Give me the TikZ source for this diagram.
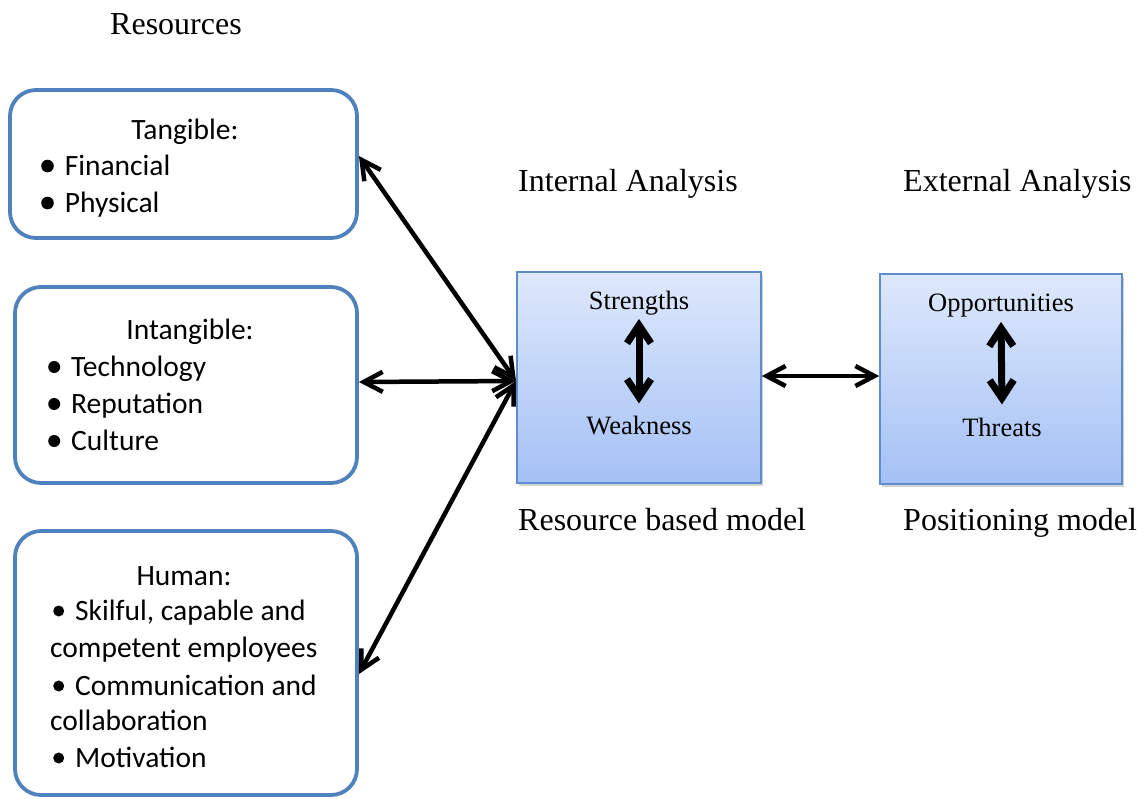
\documentclass[tikz,border=0pt]{standalone}
\usepackage{fontspec}
\setmainfont{Liberation Serif}
\newfontfamily\boxfont{Carlito}
\usetikzlibrary{arrows.meta,shadows}
\definecolor{resblue}{RGB}{79,129,189}
\definecolor{sqedge}{RGB}{95,140,205}
\definecolor{sqtop}{RGB}{222,232,251}
\definecolor{sqbot}{RGB}{164,193,245}
\tikzset{
  resbox/.style={draw=resblue, line width=3.8pt, rounded corners=26pt, fill=white},
  line/.style={font=\boxfont\fontsize{29.5}{35}\selectfont, inner sep=0pt, anchor=base west},
  head/.style={font=\boxfont\fontsize{29.5}{35}\selectfont, inner sep=0pt, anchor=base},
  label/.style={font=\fontsize{32}{38}\selectfont, inner sep=0pt, anchor=base west},
  inner/.style={font=\fontsize{26.5}{32}\selectfont, inner sep=0pt, anchor=base},
  swot/.style={draw=sqedge, line width=1.6pt, top color=sqtop, bottom color=sqbot,
    drop shadow={shadow xshift=2pt, shadow yshift=-3pt, opacity=0.35}},
  link/.style={line width=4.5pt, {Straight Barb[length=19pt,width=20pt]}-{Straight Barb[length=19pt,width=20pt]}},
  pair/.style={line width=7pt, {Straight Barb[length=18pt,width=24pt]}-{Straight Barb[length=18pt,width=24pt]}},
}
% round list bullet, followed by a gap
\newcommand{\bul}[2][6.3pt]{\tikz[baseline=0pt]{\path (0,0) (2*#1,0); \fill (#1,9pt) circle (#1);}\hspace{#2}}
\begin{document}
\begin{tikzpicture}[x=1pt,y=-1pt]
\useasboundingbox (0,0) rectangle (1145,798);

% resource boxes
\node[resbox, minimum width=347pt, minimum height=148pt] (tang) at (183.5,164) {};
\node[resbox, minimum width=342pt, minimum height=196pt] (intang) at (186,385) {};
\node[resbox, minimum width=342pt, minimum height=264pt] (human) at (186,663) {};

\node[head] (tangh) at (185,139) {Tangible:};
\node[line] (t1) at (41,175) {\bul{11pt}Financial};
\node[line] (t2) at (41,212) {\bul{11pt}Physical};

\node[head] (intangh) at (190,339) {Intangible:};
\node[line] (i1) at (48,376) {\bul[6pt]{11pt}Technology};
\node[line] (i2) at (48,413) {\bul[6pt]{11pt}Reputation};
\node[line] (i3) at (48,450) {\bul[6pt]{11pt}Culture};

\node[head] (humanh) at (184,585) {Human:};
\node[line] (h1) at (53,620) {\bul[5.5pt]{11pt}Skilful, capable and};
\node[line] (h2) at (50,657) {competent employees};
\node[line] (h3) at (53,695) {\bul[5.5pt]{11pt}Communication and};
\node[line] (h4) at (50,730) {collaboration};
\node[line] (h5) at (53,767) {\bul[5.5pt]{11pt}Motivation};

% headings
\node[label] (res) at (110,34) {Resources};
\node[label] (intl) at (518,191) {Internal Analysis};
\node[label] (extl) at (903,191) {External Analysis};
\node[label] (rbm) at (518,530) {Resource based model};
\node[label] (pos) at (903,530) {Positioning model};

% SWOT squares
\node[swot, minimum width=244pt, minimum height=211pt, inner sep=0pt] (intsq) at (639,377.5) {};
\node[swot, minimum width=242pt, minimum height=210pt, inner sep=0pt] (extsq) at (1001,379) {};

\node[inner] (str) at (639,309) {Strengths};
\node[inner] (weak) at (639,434) {Weakness};
\node[inner] (opp) at (1001,311) {Opportunities};
\node[inner] (thr) at (1002,436) {Threats};

\draw[pair] ([yshift=-4pt]str.south) -- ([yshift=12pt]weak.north);
\draw[pair] ([yshift=-5pt]opp.south) -- ([yshift=13pt]thr.north);

% connectors
\coordinate (hub) at (516,381);
\draw[link] (hub) -- (tang.east |- 0,156);
\draw[link] (hub) -- (intang.east |- 0,382);
\draw[link] (hub) -- (human.east |- 0,674);
\draw[link] (intsq.east |- 0,376) -- (extsq.west |- 0,376);
\end{tikzpicture}
\end{document}
